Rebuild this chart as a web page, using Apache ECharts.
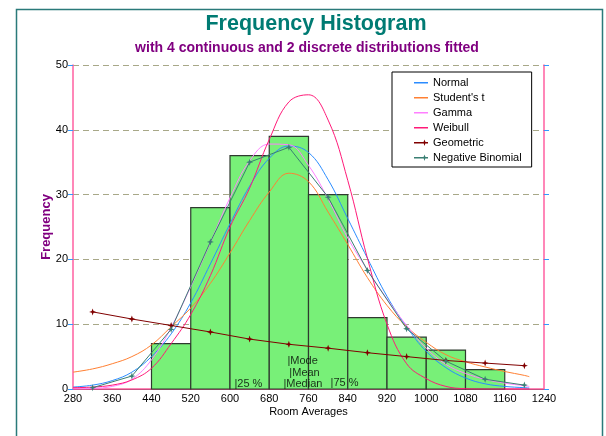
<!DOCTYPE html>
<html>
<head>
<meta charset="utf-8">
<script src="https://cdn.jsdelivr.net/npm/echarts@6/dist/echarts.min.js"></script>
<style>
html, body { margin: 0; padding: 0; background: #fff; }
#chart { width: 606px; height: 436px; }
</style>
</head>
<body>
<div id="chart"></div>
<script>
// histogram bins (room averages) and counts
const binEdges = [440, 520, 600, 680, 760, 840, 920, 1000, 1080, 1160];
const binCounts = [7, 28, 36, 39, 30, 11, 8, 6, 3];

// fitted continuous curves
const curveX = [280, 320, 360, 400, 440, 480, 520, 560, 600, 640, 680, 720, 760, 800, 840, 880, 920, 960, 1000, 1040, 1080, 1120, 1160, 1200, 1210];
const normalY = [0.3, 0.6, 1.3, 2.6, 5.0, 8.5, 13.3, 19.3, 25.5, 31.3, 35.6, 37.5, 36.5, 32.3, 26.3, 20.2, 14.3, 9.6, 5.8, 3.3, 1.7, 0.8, 0.4, 0.2, 0.15];
const studentY = [2.6, 3.1, 3.9, 5.0, 6.8, 9.6, 12.5, 16.3, 21.0, 26.0, 30.4, 33.3, 32.0, 27.3, 22.3, 17.2, 12.9, 9.6, 7.2, 5.3, 4.2, 3.4, 2.7, 2.1, 1.9];
const gammaY = [0.0, 0.1, 0.4, 1.5, 4.5, 9.5, 15.8, 22.6, 29.5, 35.2, 37.8, 37.7, 34.5, 29.3, 23.3, 18.4, 13.9, 9.8, 6.3, 3.8, 2.4, 1.5, 0.9, 0.5, 0.4];
const weibullY = [0.2, 0.3, 0.6, 1.4, 3.2, 7.0, 11.5, 17.5, 25.0, 31.0, 38.5, 44.3, 45.4, 41.5, 32.2, 20.2, 10.0, 3.9, 1.6, 0.4, 0.05, 0, 0, 0, 0];

// fitted discrete distributions at bin midpoints
const discreteX = [320, 400, 480, 560, 640, 720, 800, 880, 960, 1040, 1120, 1200];
const geometricY = [11.9, 10.8, 9.8, 8.8, 7.7, 6.9, 6.3, 5.6, 5.0, 4.4, 4.0, 3.6];
const negBinomialY = [0.2, 2.0, 9.2, 22.7, 35.0, 37.3, 29.6, 18.3, 9.3, 4.3, 1.5, 0.6];

// quantile / centre markers along the bottom
const markerNames = ['|25 %', '|Median', '|Mode', '|Mean', '|75 %'];
const markerX = [609, 709, 717, 721, 805];
const markerY = [0.8, 0.8, 4.3, 2.5, 0.9];

const legendNames = ['Normal', "Student's t", 'Gamma', 'Weibull', 'Geometric', 'Negative Binomial'];

const font = 'Liberation Sans, Arial, sans-serif';
const star = 'path://M0,-5L1.3,-1.3L5,0L1.3,1.3L0,5L-1.3,1.3L-5,0L-1.3,-1.3Z';
// legend icons: a thin line (with empty corner points to keep the box), optionally with a star near the end
const lineIcon = 'path://M0,0L0,0ZM0,3H14V4.5H0ZM14,7L14,7Z';
const starLineIcon = 'path://M0,0L0,0ZM0,3H14V4.5H0ZM10.5,0.4L11.3,2.8L13.6,3.7L11.3,4.6L10.5,7L9.7,4.6L7.4,3.7L9.7,2.8ZM14,7L14,7Z';

function pairs(xs, ys) {
  return xs.map(function (x, i) { return [x, ys[i]]; });
}

const histData = binCounts.map(function (c, i) { return [binEdges[i], binEdges[i + 1], c]; });

function curve(name, ys, color) {
  return {
    name: name,
    type: 'line',
    data: pairs(curveX, ys),
    smooth: 0.4,
    symbol: 'none',
    lineStyle: { color: color, width: 1 },
    itemStyle: { color: color },
    z: 3
  };
}

function discrete(name, ys, color) {
  return {
    name: name,
    type: 'line',
    data: pairs(discreteX, ys),
    symbol: star,
    symbolSize: 7,
    lineStyle: { color: color, width: 1 },
    itemStyle: { color: color },
    z: 4
  };
}

const chart = echarts.init(document.getElementById('chart'), null, { renderer: 'canvas' });

const option = {
  animation: false,
  backgroundColor: '#fff',
  textStyle: { fontFamily: font },
  title: [
    {
      text: 'Frequency Histogram',
      left: 316, top: 13, textAlign: 'center', padding: 0,
      textStyle: { color: '#007b73', fontSize: 21.5, fontWeight: 'bold', fontFamily: font }
    },
    {
      text: 'with 4 continuous and 2 discrete distributions fitted',
      left: 307, top: 41, textAlign: 'center', padding: 0,
      textStyle: { color: '#800080', fontSize: 14, fontWeight: 'bold', fontFamily: font }
    }
  ],
  graphic: [
    {
      type: 'rect', left: 14, top: 7, z: -10,
      shape: { width: 586, height: 440 },
      style: { fill: null, stroke: '#2a7a7a', lineWidth: 1.5 }
    }
  ],
  legend: {
    data: legendNames.map(function (n, i) {
      return { name: n, icon: i < 4 ? lineIcon : starLineIcon };
    }),
    orient: 'vertical',
    left: 392, top: 72,
    padding: [4, 10, 3, 22],
    itemGap: 2,
    itemWidth: 14,
    itemHeight: 7,
    backgroundColor: '#fff',
    borderColor: '#000',
    borderWidth: 1,
    borderRadius: 0,
    itemStyle: { borderWidth: 0 },
    textStyle: { fontSize: 11, color: '#000', fontFamily: font, lineHeight: 13 }
  },
  grid: { left: 73, right: 62, top: 65, bottom: 47, containLabel: false },
  xAxis: [
    {
      type: 'value', min: 280, max: 1240, interval: 80,
      name: 'Room Averages', nameLocation: 'middle', nameGap: 17, nameMoveOverlap: false,
      nameTextStyle: { color: '#000', fontSize: 11, fontFamily: font },
      axisLine: { show: true, lineStyle: { color: '#222', width: 1 } },
      axisTick: { show: false },
      axisLabel: {
        color: '#000', fontSize: 11, margin: 4, fontFamily: font, hideOverlap: false,
        formatter: function (v) { return String(v); }
      },
      splitLine: { show: false }
    },
    {
      type: 'value', min: 280, max: 1240, interval: 80, position: 'top',
      axisLine: { show: true, lineStyle: { color: '#ff5fa0', width: 1.5 } },
      axisTick: { show: false }, axisLabel: { show: false }, splitLine: { show: false }
    }
  ],
  yAxis: [
    {
      type: 'value', min: 0, max: 50, interval: 10,
      name: 'Frequency', nameLocation: 'middle', nameGap: 20, nameMoveOverlap: false,
      nameTextStyle: { color: '#800080', fontSize: 13, fontWeight: 'bold', fontFamily: font },
      axisLine: { show: true, lineStyle: { color: '#ff5fa0', width: 1.5 } },
      axisTick: { show: true, inside: false, length: 5, lineStyle: { color: '#3399ff', width: 1 } },
      axisLabel: { color: '#000', fontSize: 11, margin: 5, fontFamily: font },
      splitLine: { show: true, lineStyle: { color: '#a8a888', type: [6, 4], width: 1 } }
    },
    {
      type: 'value', min: 0, max: 50, interval: 10, position: 'right',
      axisLine: { show: true, lineStyle: { color: '#ff5fa0', width: 1.5 } },
      axisTick: { show: true, inside: false, length: 5, lineStyle: { color: '#3399ff', width: 1 } },
      axisLabel: { show: false }, splitLine: { show: false }
    }
  ],
  series: [
    {
      name: 'Histogram',
      type: 'custom',
      data: histData,
      encode: { x: [0, 1], y: 2 },
      z: 2,
      renderItem: function (params, api) {
        const p0 = api.coord([api.value(0), api.value(2)]);
        const p1 = api.coord([api.value(1), 0]);
        return {
          type: 'rect',
          shape: { x: p0[0], y: p0[1], width: p1[0] - p0[0], height: p1[1] - p0[1] },
          style: { fill: '#78f078', stroke: '#2f3a2f', lineWidth: 1.2 }
        };
      }
    },
    curve('Normal', normalY, '#2b8cff'),
    curve("Student's t", studentY, '#ff8033'),
    curve('Gamma', gammaY, '#ff7fff'),
    curve('Weibull', weibullY, '#ff1a78'),
    discrete('Geometric', geometricY, '#800000'),
    discrete('Negative Binomial', negBinomialY, '#3a7f73'),
    {
      name: 'markers',
      type: 'scatter',
      symbolSize: 0,
      z: 5,
      data: markerNames.map(function (n, i) { return { name: n, value: [markerX[i], markerY[i]] }; }),
      label: {
        show: true, position: 'right', distance: 0,
        formatter: function (p) { return p.name; },
        color: '#000', fontSize: 11, fontFamily: font
      }
    }
  ]
};

chart.setOption(option);
</script>
</body>
</html>
